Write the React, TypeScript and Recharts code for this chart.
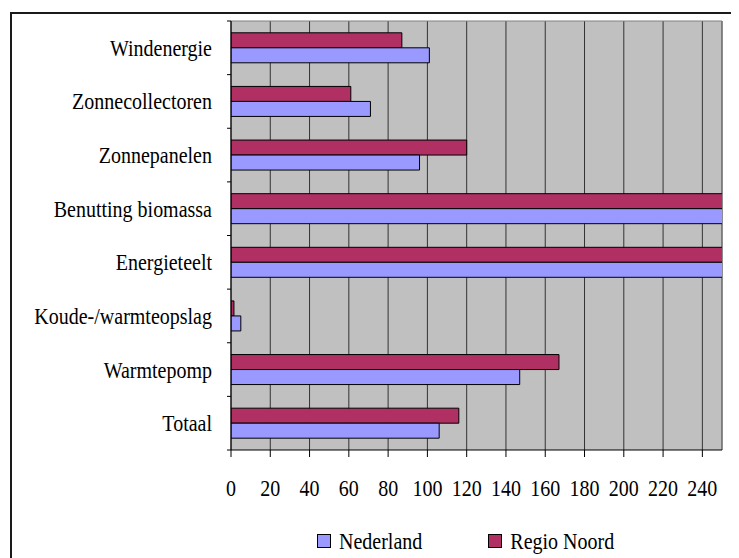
import { BarChart, Bar, XAxis, YAxis, CartesianGrid, Legend } from 'recharts';

const categories = [
  'Windenergie',
  'Zonnecollectoren',
  'Zonnepanelen',
  'Benutting biomassa',
  'Energieteelt',
  'Koude-/warmteopslag',
  'Warmtepomp',
  'Totaal',
];
const nederland = [101, 71, 96, 300, 300, 5, 147, 106];
const regioNoord = [87, 61, 120, 320, 310, 1.5, 167, 116];
const xTicks = [0, 20, 40, 60, 80, 100, 120, 140, 160, 180, 200, 220, 240];

const data = categories.map((name, i) => ({
  name,
  nederland: nederland[i],
  regioNoord: regioNoord[i],
}));

const FONT = '"Liberation Serif", "Times New Roman", serif';
const STRETCH = 1.15;
const Y_TICK_SIZE = 4;
const Y_TICK_MARGIN = 15;

// category labels sit mid-band, but the tick marks go on the band edges
const CategoryTick = (props: any) => {
  const { x, y, payload, index } = props;
  const half = payload.offset ?? 0;
  const axisX = x + Y_TICK_MARGIN + Y_TICK_SIZE;
  const last = index === categories.length - 1;
  return (
    <g>
      <line x1={axisX - Y_TICK_SIZE} x2={axisX} y1={y - half} y2={y - half} stroke="#000" />
      {last && (
        <line x1={axisX - Y_TICK_SIZE} x2={axisX} y1={y + half} y2={y + half} stroke="#000" />
      )}
      <text
        transform={`translate(${x},${y}) scale(1,${STRETCH})`}
        textAnchor="end"
        dy="0.35em"
        fontFamily={FONT}
        fontSize={20}
        fill="#000"
      >
        {payload.value}
      </text>
    </g>
  );
};

const ValueTick = (props: any) => {
  const { x, y, payload } = props;
  return (
    <text
      transform={`translate(${x},${y}) scale(1,${STRETCH})`}
      textAnchor="middle"
      dy="0.71em"
      fontFamily={FONT}
      fontSize={20}
      fill="#000"
    >
      {payload.value}
    </text>
  );
};

const legendItems = [
  { label: 'Nederland', color: '#9999FF' },
  { label: 'Regio Noord', color: '#B03064' },
];

const LegendContent = () => (
  <div style={{ display: 'flex', gap: 66, fontFamily: FONT, fontSize: 20, color: '#000' }}>
    {legendItems.map((item) => (
      <div key={item.label} style={{ display: 'flex', alignItems: 'center', gap: 8 }}>
        <span
          style={{
            width: 12,
            height: 12,
            background: item.color,
            border: '1px solid #000',
            display: 'inline-block',
          }}
        />
        <span style={{ display: 'inline-block', transform: `scaleY(${STRETCH})`, lineHeight: '22px' }}>
          {item.label}
        </span>
      </div>
    ))}
  </div>
);

export default function App() {
  return (
    <div style={{ position: 'relative', width: 731, height: 550, overflow: 'hidden', background: '#fff' }}>
      <div
        style={{
          position: 'absolute',
          left: 2,
          top: 4,
          width: 800,
          height: 700,
          border: '2px solid #1a1a1a',
        }}
      />
      <div style={{ position: 'absolute', left: 0, top: 0 }}>
        <BarChart
          width={731}
          height={550}
          data={data}
          layout="vertical"
          margin={{ top: 13, right: 17, bottom: 0, left: 0 }}
          barCategoryGap="22%"
          barGap={0}
        >
          <CartesianGrid horizontal={false} stroke="#333" fill="#C0C0C0" />
          <CartesianGrid
            stroke="#808080"
            horizontalCoordinatesGenerator={({ offset }: any) => [offset.top]}
            verticalCoordinatesGenerator={({ offset }: any) => [offset.left + offset.width]}
          />
          <XAxis
            type="number"
            domain={[0, 250]}
            ticks={xTicks}
            allowDataOverflow
            height={108}
            tickSize={7}
            tickMargin={23}
            stroke="#000"
            tick={<ValueTick />}
          />
          <YAxis
            type="category"
            dataKey="name"
            width={223}
            tickLine={false}
            tickSize={Y_TICK_SIZE}
            tickMargin={Y_TICK_MARGIN}
            stroke="#000"
            interval={0}
            tick={<CategoryTick />}
          />
          <Legend
            layout="horizontal"
            verticalAlign="middle"
            align="center"
            wrapperStyle={{ position: 'absolute', left: 309, top: 522, width: 420 }}
            content={<LegendContent />}
          />
          <Bar dataKey="regioNoord" name="Regio Noord" fill="#B03064" stroke="#000" isAnimationActive={false} />
          <Bar dataKey="nederland" name="Nederland" fill="#9999FF" stroke="#000" isAnimationActive={false} />
        </BarChart>
      </div>
    </div>
  );
}
